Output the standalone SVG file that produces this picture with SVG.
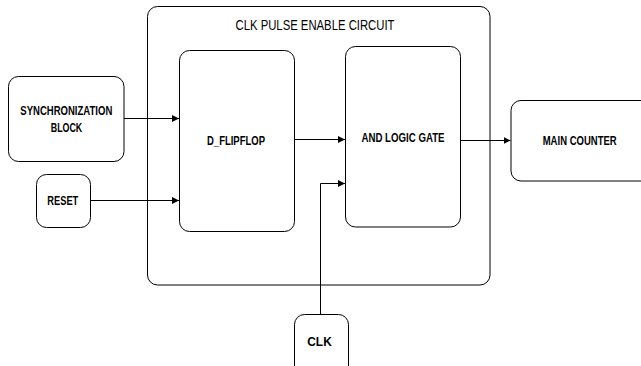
<svg xmlns="http://www.w3.org/2000/svg" width="641" height="366" viewBox="0 0 641 366">
<defs>
<style>
.box{fill:#fff;stroke:#000;stroke-width:1}
.lbl{font-family:"Liberation Sans",Arial,sans-serif;font-weight:bold;font-size:12.5px;fill:#000;text-anchor:middle}
.ttl{font-family:"Liberation Sans",Arial,sans-serif;font-size:14px;fill:#000;text-anchor:middle}
.wire{fill:none;stroke:#000;stroke-width:1}
</style>
<marker id="arr" viewBox="0 0 10 10" refX="10" refY="5" markerWidth="7" markerHeight="7" markerUnits="userSpaceOnUse" orient="auto">
<path d="M0,0 L10,5 L0,10 z" fill="#000"/>
</marker>
</defs>
<rect width="641" height="366" fill="#fff"/>
<g id="clk-pulse-enable-circuit">
<rect class="box" x="147.5" y="6.5" width="342.5" height="278.5" rx="10"/>
<text class="ttl" x="315" y="29.5" textLength="159" lengthAdjust="spacingAndGlyphs">CLK PULSE ENABLE CIRCUIT</text>
</g>
<g id="sync-block">
<rect class="box" x="8.5" y="76.5" width="115.5" height="85" rx="10"/>
<text class="lbl" x="66.3" y="115" textLength="92" lengthAdjust="spacingAndGlyphs">SYNCHRONIZATION</text>
<text class="lbl" x="66.5" y="131.5" textLength="31.5" lengthAdjust="spacingAndGlyphs">BLOCK</text>
</g>
<g id="reset">
<rect class="box" x="36.5" y="174.5" width="54" height="53" rx="10"/>
<text class="lbl" x="62.8" y="205" textLength="31" lengthAdjust="spacingAndGlyphs">RESET</text>
</g>
<g id="d-flipflop">
<rect class="box" x="179.5" y="50.5" width="115" height="181" rx="10"/>
<text class="lbl" x="236" y="145" textLength="58" lengthAdjust="spacingAndGlyphs">D_FLIPFLOP</text>
</g>
<g id="and-logic-gate">
<rect class="box" x="345.5" y="46.5" width="115" height="180.5" rx="10"/>
<text class="lbl" x="403" y="142" textLength="83" lengthAdjust="spacingAndGlyphs">AND LOGIC GATE</text>
</g>
<g id="main-counter">
<rect class="box" x="511" y="100.5" width="140" height="80.5" rx="10"/>
<text class="lbl" x="579.7" y="145" textLength="74" lengthAdjust="spacingAndGlyphs">MAIN COUNTER</text>
</g>
<g id="clk">
<rect class="box" x="294.5" y="314.5" width="54" height="62" rx="10"/>
<text class="lbl" x="319.5" y="346" textLength="24.5" lengthAdjust="spacingAndGlyphs">CLK</text>
</g>
<g id="connectors">
<path class="wire" d="M124,118.5 H179" marker-end="url(#arr)"/>
<path class="wire" d="M90.5,200.5 H179" marker-end="url(#arr)"/>
<path class="wire" d="M294.5,139.5 H345" marker-end="url(#arr)"/>
<path class="wire" d="M460.5,140.5 H510.5" marker-end="url(#arr)"/>
<path class="wire" d="M320.5,314.5 V183.5 H345" marker-end="url(#arr)"/>
</g>
</svg>
